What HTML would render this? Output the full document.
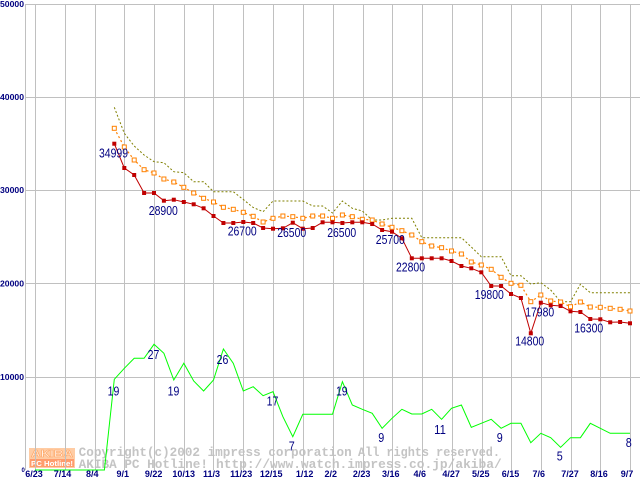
<!DOCTYPE html>
<html><head><meta charset="utf-8"><style>
html,body{margin:0;padding:0;background:#fff;}
svg{display:block;}
</style></head><body>
<svg width="640" height="480" viewBox="0 0 640 480" xmlns="http://www.w3.org/2000/svg">
<defs>
<marker id="mr" markerWidth="5" markerHeight="5" refX="2.5" refY="2.5" markerUnits="userSpaceOnUse"><rect x="0.5" y="0.5" width="4" height="4" fill="#c00000" stroke="none"/></marker>
<marker id="mo" markerWidth="6" markerHeight="6" refX="3" refY="3" markerUnits="userSpaceOnUse"><rect x="1" y="1" width="4" height="4" fill="#fff" stroke="#ff8000" stroke-width="1" stroke-dasharray="none"/></marker>
</defs>
<rect width="640" height="480" fill="#fff"/>

<!-- logo & watermark -->
<rect x="29" y="448" width="46" height="10" fill="#ffcca4"/>
<text x="31" y="457" font-family="Liberation Sans, sans-serif" font-weight="bold" font-size="10" fill="#fff0e6" stroke="#ffa868" stroke-width="0.6" textLength="42" lengthAdjust="spacingAndGlyphs">AKIBA</text>
<rect x="29" y="458" width="46" height="10" fill="#ffcca4"/>
<rect x="30" y="459" width="44" height="8" fill="#ff9c6c"/>
<text x="31" y="466" font-family="Liberation Sans, sans-serif" font-weight="bold" font-size="7" fill="#fff" textLength="42" lengthAdjust="spacingAndGlyphs">PC Hotline!</text>
<g font-family="Liberation Mono, monospace" font-weight="bold" font-size="12.5" fill="#c4c4c4">
<text x="78.7" y="456" textLength="273" lengthAdjust="spacingAndGlyphs">Copyright(c)2002 impress corporation</text>
<text x="358" y="456" textLength="142" lengthAdjust="spacingAndGlyphs">All rights reserved.</text>
<text x="78.7" y="468" textLength="129.3" lengthAdjust="spacingAndGlyphs">AKIBA PC Hotline!</text>
<text x="216" y="468" textLength="285.7" lengthAdjust="spacingAndGlyphs">http://www.watch.impress.co.jp/akiba/</text>
</g>

<!-- grid -->
<g stroke="#c0c0c0" stroke-width="1" shape-rendering="crispEdges">
<line x1="25" y1="4.5" x2="640" y2="4.5"/>
<line x1="25" y1="97.5" x2="640" y2="97.5"/>
<line x1="25" y1="190.5" x2="640" y2="190.5"/>
<line x1="25" y1="283.5" x2="640" y2="283.5"/>
<line x1="25" y1="377.5" x2="640" y2="377.5"/>
<line x1="25.5" y1="4" x2="25.5" y2="470"/>
<line x1="35.5" y1="4" x2="35.5" y2="470"/>
<line x1="65.5" y1="4" x2="65.5" y2="470"/>
<line x1="95.5" y1="4" x2="95.5" y2="470"/>
<line x1="124.5" y1="4" x2="124.5" y2="470"/>
<line x1="154.5" y1="4" x2="154.5" y2="470"/>
<line x1="184.5" y1="4" x2="184.5" y2="470"/>
<line x1="213.5" y1="4" x2="213.5" y2="470"/>
<line x1="243.5" y1="4" x2="243.5" y2="470"/>
<line x1="273.5" y1="4" x2="273.5" y2="470"/>
<line x1="303.5" y1="4" x2="303.5" y2="470"/>
<line x1="333.5" y1="4" x2="333.5" y2="470"/>
<line x1="363.5" y1="4" x2="363.5" y2="470"/>
<line x1="392.5" y1="4" x2="392.5" y2="470"/>
<line x1="422.5" y1="4" x2="422.5" y2="470"/>
<line x1="452.5" y1="4" x2="452.5" y2="470"/>
<line x1="482.5" y1="4" x2="482.5" y2="470"/>
<line x1="511.5" y1="4" x2="511.5" y2="470"/>
<line x1="541.5" y1="4" x2="541.5" y2="470"/>
<line x1="571.5" y1="4" x2="571.5" y2="470"/>
<line x1="600.5" y1="4" x2="600.5" y2="470"/>
<line x1="630.5" y1="4" x2="630.5" y2="470"/>
</g>

<!-- y labels -->
<g font-family="Liberation Sans, sans-serif" font-weight="bold" font-size="8" fill="#000080">
<text x="0" y="7" textLength="24" lengthAdjust="spacingAndGlyphs">50000</text>
<text x="0" y="100" textLength="24" lengthAdjust="spacingAndGlyphs">40000</text>
<text x="0" y="193" textLength="24" lengthAdjust="spacingAndGlyphs">30000</text>
<text x="0" y="286.5" textLength="24" lengthAdjust="spacingAndGlyphs">20000</text>
<text x="0" y="380" textLength="24" lengthAdjust="spacingAndGlyphs">10000</text>
<text x="21.5" y="472" font-size="6">0</text>
</g>

<!-- x labels -->
<g font-family="Liberation Sans, sans-serif" font-weight="bold" font-size="9" fill="#000080" text-anchor="middle">
<text x="34" y="477">6/23</text>
<text x="62.5" y="477">7/14</text>
<text x="92.3" y="477">8/4</text>
<text x="122.8" y="477">9/1</text>
<text x="153.7" y="477">9/22</text>
<text x="183.7" y="477">10/13</text>
<text x="211.5" y="477">11/3</text>
<text x="241.2" y="477">11/23</text>
<text x="271.2" y="477">12/15</text>
<text x="304.7" y="477">1/12</text>
<text x="330.8" y="477">2/2</text>
<text x="361.7" y="477">2/23</text>
<text x="390.8" y="477">3/16</text>
<text x="419.7" y="477">4/6</text>
<text x="451.2" y="477">4/27</text>
<text x="480.8" y="477">5/25</text>
<text x="510.5" y="477">6/15</text>
<text x="538.8" y="477">7/6</text>
<text x="570" y="477">7/27</text>
<text x="599" y="477">8/16</text>
<text x="627" y="477">9/7</text>
</g>

<!-- olive (max) -->
<polyline fill="none" stroke="#808000" stroke-width="1" stroke-dasharray="2,2" points="114.3,107.3 124.3,133.3 134.2,146 144.1,155 154,161.7 163.9,162.7 173.8,171.7 183.8,172.7 193.7,181.7 203.6,181.7 213.5,191.7 223.4,191.7 233.3,191.7 243.3,199.5 253.2,207.5 263.1,211.7 273,201 282.9,201 292.8,201 302.8,201 312.7,206 322.6,206 332.5,213 342.4,201 352.3,208.3 362.3,211 372.2,220 382.1,220 392,218.3 401.9,218.3 411.8,218.3 421.8,237.7 431.7,237.7 441.6,237.7 451.5,237.7 461.4,237.7 471.3,247 481.3,256.7 491.2,256.7 501.1,256.7 511,275.7 520.9,275.7 530.8,284 540.8,282.7 550.7,290 560.6,301.7 570.5,301.7 580.4,284.3 590.3,292.7 600.3,292.7 610.2,292.7 620.1,292.7 630,292.7"/>

<!-- orange (average) -->
<polyline fill="none" stroke="#ff8000" stroke-width="1.2" stroke-dasharray="2,2.5" marker-start="url(#mo)" marker-mid="url(#mo)" marker-end="url(#mo)" points="114.3,128.3 124.3,147 134.2,160 144.1,169.7 154,173 163.9,179 173.8,182 183.8,187.3 193.7,193 203.6,198.3 213.5,202 223.4,207.3 233.3,209.3 243.3,212.3 253.2,216.3 263.1,222 273,218.3 282.9,216 292.8,216.7 302.8,218.3 312.7,216 322.6,216 332.5,218.3 342.4,215 352.3,216.7 362.3,219.3 372.2,220 382.1,224 392,227.3 401.9,230.7 411.8,235 421.8,241.7 431.7,246 441.6,247.7 451.5,251 461.4,254 471.3,262 481.3,265 491.2,269.3 501.1,277.3 511,283.3 520.9,285.3 530.8,301.7 540.8,295 550.7,301 560.6,302 570.5,306.7 580.4,302 590.3,307 600.3,307.3 610.2,308.3 620.1,309.3 630,311"/>

<!-- red (min) -->
<polyline fill="none" stroke="#c00000" stroke-width="1" marker-start="url(#mr)" marker-mid="url(#mr)" marker-end="url(#mr)" points="114.3,143.7 124.3,168 134.2,175 144.1,193 154,193 163.9,200.7 173.8,199.7 183.8,202 193.7,204.3 203.6,208.3 213.5,216 223.4,223 233.3,223 243.3,222 253.2,223 263.1,228 273,228.7 282.9,228.3 292.8,222.7 302.8,228.7 312.7,228 322.6,222.3 332.5,222.3 342.4,223 352.3,222.3 362.3,222.3 372.2,224 382.1,230 392,231.7 401.9,238.3 411.8,258.3 421.8,258.3 431.7,258.3 441.6,258.3 451.5,261 461.4,266 471.3,268.3 481.3,272.3 491.2,286 501.1,286 511,294 520.9,298 530.8,333.3 540.8,302.7 550.7,305.3 560.6,306 570.5,311.3 580.4,312 590.3,319 600.3,319.3 610.2,322.3 620.1,322 630,323.3"/>

<!-- green (count) -->
<polyline fill="none" stroke="#00ff00" stroke-width="1" points="35,470 44.9,470 54.8,470 64.8,470 74.7,470 84.6,470 94.5,470 104.4,470 114.3,379.3 124.3,368.3 134.2,358.3 144.1,358.3 154,344.3 163.9,353.3 173.8,380 183.8,363.3 193.7,381 203.6,391 213.5,380 223.4,349 233.3,363.3 243.3,391 253.2,386.7 263.1,395.7 273,391.7 282.9,416.7 292.8,436.7 302.8,414.3 312.7,414.3 322.6,414.3 332.5,414.3 342.4,381.7 352.3,405 362.3,409.3 372.2,413.3 382.1,428.3 392,418.3 401.9,409.3 411.8,414 421.8,414 431.7,409.3 441.6,419.3 451.5,408.3 461.4,405 471.3,427.3 481.3,423.3 491.2,419.3 501.1,428.3 511,423.3 520.9,423.3 530.8,442.7 540.8,433.3 550.7,437.7 560.6,447.3 570.5,437.7 580.4,437.7 590.3,423.3 600.3,428.3 610.2,433.3 620.1,433.3 630,433.3"/>

<!-- price labels -->
<g font-family="Liberation Sans, sans-serif" font-size="12.5" fill="#000080" text-anchor="middle">
<text x="113.5" y="157.5" textLength="29" lengthAdjust="spacingAndGlyphs">34999</text>
<text x="163.3" y="215" textLength="29" lengthAdjust="spacingAndGlyphs">28900</text>
<text x="242.2" y="235.5" textLength="29" lengthAdjust="spacingAndGlyphs">26700</text>
<text x="291.7" y="237" textLength="29" lengthAdjust="spacingAndGlyphs">26500</text>
<text x="341.7" y="237" textLength="29" lengthAdjust="spacingAndGlyphs">26500</text>
<text x="390.3" y="244" textLength="29" lengthAdjust="spacingAndGlyphs">25700</text>
<text x="410.5" y="271.5" textLength="29" lengthAdjust="spacingAndGlyphs">22800</text>
<text x="489.3" y="299" textLength="29" lengthAdjust="spacingAndGlyphs">19800</text>
<text x="539.7" y="316.5" textLength="29" lengthAdjust="spacingAndGlyphs">17980</text>
<text x="529.7" y="345.7" textLength="29" lengthAdjust="spacingAndGlyphs">14800</text>
<text x="588.7" y="332.5" textLength="29" lengthAdjust="spacingAndGlyphs">16300</text>
</g>

<!-- count labels -->
<g font-family="Liberation Sans, sans-serif" font-size="12.5" fill="#000080" text-anchor="middle">
<text x="113.5" y="395.5" textLength="11.7" lengthAdjust="spacingAndGlyphs">19</text>
<text x="153.5" y="358.8" textLength="11.7" lengthAdjust="spacingAndGlyphs">27</text>
<text x="173.5" y="395.5" textLength="11.7" lengthAdjust="spacingAndGlyphs">19</text>
<text x="222.5" y="363.8" textLength="11.7" lengthAdjust="spacingAndGlyphs">26</text>
<text x="272.5" y="405.5" textLength="11.7" lengthAdjust="spacingAndGlyphs">17</text>
<text x="291.8" y="450.5" textLength="6" lengthAdjust="spacingAndGlyphs">7</text>
<text x="341.8" y="395.5" textLength="11.7" lengthAdjust="spacingAndGlyphs">19</text>
<text x="381.3" y="442" textLength="6" lengthAdjust="spacingAndGlyphs">9</text>
<text x="440" y="433.8" textLength="11.7" lengthAdjust="spacingAndGlyphs">11</text>
<text x="499.7" y="442" textLength="6" lengthAdjust="spacingAndGlyphs">9</text>
<text x="559.7" y="460.7" textLength="6" lengthAdjust="spacingAndGlyphs">5</text>
<text x="628.8" y="447" textLength="6" lengthAdjust="spacingAndGlyphs">8</text>
</g>
</svg>
</body></html>
